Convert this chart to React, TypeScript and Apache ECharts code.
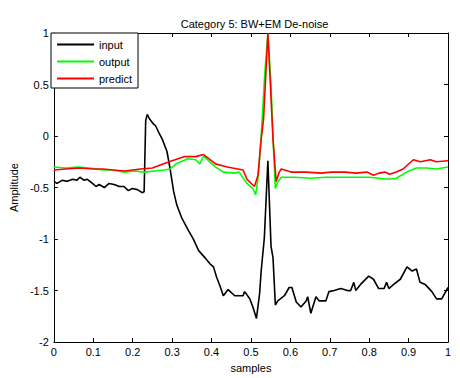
import React, { useEffect, useRef } from "react";
import * as echarts from "echarts";

const title = "Category 5: BW+EM De-noise";
const seriesNames = ["input", "output", "predict"];
const seriesColors = ["#000000", "#00ff00", "#ff0000"];

const inputX = [0, 0.008, 0.021, 0.034, 0.048, 0.058, 0.066, 0.077, 0.085, 0.098, 0.107, 0.115, 0.128, 0.14, 0.153, 0.166, 0.178, 0.189, 0.199, 0.212, 0.224, 0.229, 0.233, 0.237, 0.242, 0.252, 0.258, 0.268, 0.275, 0.287, 0.295, 0.304, 0.312, 0.325, 0.342, 0.354, 0.367, 0.383, 0.396, 0.405, 0.413, 0.421, 0.43, 0.442, 0.459, 0.48, 0.484, 0.497, 0.505, 0.514, 0.522, 0.526, 0.534, 0.543, 0.551, 0.556, 0.562, 0.568, 0.585, 0.597, 0.604, 0.615, 0.627, 0.64, 0.644, 0.652, 0.665, 0.673, 0.69, 0.698, 0.711, 0.728, 0.745, 0.753, 0.761, 0.766, 0.778, 0.799, 0.811, 0.824, 0.838, 0.844, 0.85, 0.862, 0.879, 0.896, 0.909, 0.92, 0.929, 0.942, 0.959, 0.971, 0.984, 1.0];
const inputY = [-0.44, -0.46, -0.43, -0.44, -0.42, -0.43, -0.4, -0.43, -0.42, -0.46, -0.49, -0.47, -0.5, -0.46, -0.47, -0.49, -0.49, -0.53, -0.51, -0.52, -0.55, -0.54, 0.15, 0.21, 0.17, 0.12, 0.1, 0.02, -0.03, -0.15, -0.32, -0.54, -0.67, -0.8, -0.92, -1.0, -1.11, -1.18, -1.24, -1.27, -1.37, -1.45, -1.55, -1.49, -1.55, -1.55, -1.51, -1.58, -1.66, -1.77, -1.53, -1.31, -0.99, -0.24, -1.07, -1.18, -1.64, -1.6, -1.55, -1.47, -1.47, -1.61, -1.66, -1.6, -1.56, -1.72, -1.56, -1.6, -1.6, -1.51, -1.5, -1.48, -1.5, -1.5, -1.42, -1.5, -1.44, -1.36, -1.39, -1.48, -1.48, -1.42, -1.48, -1.44, -1.39, -1.27, -1.31, -1.29, -1.42, -1.44, -1.51, -1.58, -1.58, -1.47];

const outputX = [0, 0.03, 0.06, 0.09, 0.126, 0.15, 0.18, 0.205, 0.23, 0.255, 0.28, 0.295, 0.31, 0.34, 0.36, 0.37, 0.38, 0.395, 0.41, 0.43, 0.46, 0.47, 0.49, 0.505, 0.512, 0.518, 0.526, 0.535, 0.543, 0.551, 0.557, 0.562, 0.567, 0.577, 0.61, 0.653, 0.69, 0.72, 0.766, 0.8, 0.825, 0.85, 0.869, 0.895, 0.92, 0.945, 0.97, 0.985, 1.0];
const outputY = [-0.3, -0.31, -0.3, -0.31, -0.33, -0.33, -0.35, -0.34, -0.35, -0.34, -0.33, -0.32, -0.27, -0.22, -0.23, -0.27, -0.195, -0.25, -0.3, -0.35, -0.36, -0.35, -0.46, -0.51, -0.57, -0.41, 0.0, 0.6, 0.99, 0.5, -0.1, -0.51, -0.45, -0.4, -0.4, -0.41, -0.4, -0.4, -0.4, -0.4, -0.41, -0.42, -0.41, -0.35, -0.31, -0.31, -0.32, -0.31, -0.3];

const predictX = [0, 0.03, 0.066, 0.1, 0.126, 0.15, 0.18, 0.22, 0.25, 0.27, 0.3, 0.33, 0.36, 0.38, 0.41, 0.44, 0.48, 0.49, 0.509, 0.518, 0.526, 0.532, 0.543, 0.55, 0.556, 0.564, 0.572, 0.577, 0.602, 0.64, 0.678, 0.703, 0.74, 0.766, 0.794, 0.811, 0.825, 0.84, 0.852, 0.869, 0.886, 0.912, 0.93, 0.955, 0.97, 1.0];
const predictY = [-0.33, -0.32, -0.31, -0.32, -0.32, -0.33, -0.34, -0.32, -0.31, -0.28, -0.24, -0.2, -0.2, -0.18, -0.27, -0.3, -0.33, -0.42, -0.49, -0.38, -0.03, 0.16, 1.0, 0.45, -0.03, -0.44, -0.35, -0.32, -0.35, -0.35, -0.36, -0.35, -0.35, -0.36, -0.35, -0.38, -0.36, -0.35, -0.37, -0.35, -0.32, -0.23, -0.25, -0.23, -0.25, -0.24];

const xTicks = { min: 0, max: 1, interval: 0.1 };
const yTicks = { min: -2, max: 1, interval: 0.5 };

function zip(xs: number[], ys: number[]) {
  return xs.map((x, i) => [x, ys[i]]);
}

const FONT = "Liberation Sans, Arial, sans-serif";

export default function App() {
  const ref = useRef<HTMLDivElement>(null);
  useEffect(() => {
    if (!ref.current) return;
    const chart = echarts.init(ref.current, undefined, { renderer: "svg" });
    const axisLine = { show: true, onZero: false, lineStyle: { color: "#000", width: 1 } };
    const tickIn = { show: true, inside: true, length: 4, lineStyle: { color: "#000" } };
    const labelStyle = { color: "#000", fontSize: 11, fontFamily: FONT };
    const data = [zip(inputX, inputY), zip(outputX, outputY), zip(predictX, predictY)];
    chart.setOption({
      animation: false,
      backgroundColor: "#fff",
      title: {
        text: title,
        left: 249.5,
        textAlign: "center",
        top: 13,
        textStyle: { color: "#000", fontSize: 11, fontWeight: "normal", fontFamily: FONT },
      },
      legend: {
        orient: "vertical",
        left: 51,
        top: 33,
        icon: "rect",
        itemWidth: 37,
        itemHeight: 2,
        itemGap: 0,
        padding: [3, 6, 1, 6],
        backgroundColor: "#fff",
        borderColor: "#000",
        borderWidth: 1,
        borderRadius: 0,
        textStyle: { color: "#000", fontSize: 11, fontFamily: FONT, lineHeight: 17 },
        data: seriesNames,
      },
      grid: { left: 51, right: 12, top: 33, bottom: 32, containLabel: false },
      xAxis: [
        {
          type: "value",
          position: "bottom",
          ...xTicks,
          name: "samples",
          nameLocation: "middle",
          nameGap: 17,
          nameTextStyle: labelStyle,
          axisLine,
          axisTick: tickIn,
          axisLabel: { ...labelStyle, margin: 4, formatter: (v: number) => String(+v.toFixed(1)) },
          splitLine: { show: false },
        },
        {
          type: "value",
          position: "top",
          ...xTicks,
          axisLine,
          axisTick: tickIn,
          axisLabel: { show: false },
          splitLine: { show: false },
        },
      ],
      yAxis: [
        {
          type: "value",
          position: "left",
          ...yTicks,
          name: "Amplitude",
          nameLocation: "middle",
          nameGap: 30,
          nameTextStyle: labelStyle,
          axisLine,
          axisTick: tickIn,
          axisLabel: { ...labelStyle, margin: 5, formatter: (v: number) => String(+v.toFixed(1)) },
          splitLine: { show: false },
        },
        {
          type: "value",
          position: "right",
          ...yTicks,
          axisLine,
          axisTick: tickIn,
          axisLabel: { show: false },
          splitLine: { show: false },
        },
      ],
      series: seriesNames.map((name, i) => ({
        name,
        type: "line",
        data: data[i],
        xAxisIndex: 0,
        yAxisIndex: 0,
        showSymbol: false,
        symbol: "none",
        color: seriesColors[i],
        lineStyle: { color: seriesColors[i], width: 1.6 },
        z: 2 + i,
      })),
    });
    return () => chart.dispose();
  }, []);
  return <div ref={ref} style={{ width: 460, height: 378, position: "absolute", left: 0, top: 0 }} />;
}
